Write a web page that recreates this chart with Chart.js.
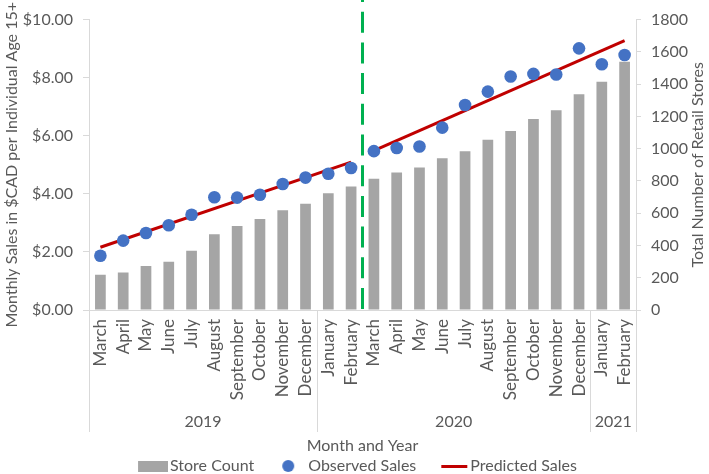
<!DOCTYPE html>
<html>
<head>
<meta charset="utf-8">
<script src="https://cdn.jsdelivr.net/npm/chart.js@4.4.1/dist/chart.umd.min.js"></script>
<style>
  html, body { margin: 0; padding: 0; background: #fff; }
  #wrap { width: 709px; height: 474px; }
</style>
</head>
<body>
<div id="wrap"><canvas id="myChart" width="709" height="474"></canvas></div>
<script>
// months, Mar 2019 - Feb 2021
var months = ["March", "April", "May", "June", "July", "August", "September", "October", "November", "December",
              "January", "February", "March", "April", "May", "June", "July", "August", "September", "October", "November", "December",
              "January", "February"];
var years = ["2019", "2020", "2021"];
var yearMonthCount = [10, 12, 2];

var storeCount = [218, 232, 273, 299, 368, 469, 521, 564, 618, 659, 723, 766,
                  814, 853, 883, 941, 984, 1055, 1109, 1184, 1238, 1337, 1414, 1539];
var observedSales = [1.87, 2.39, 2.65, 2.92, 3.28, 3.88, 3.87, 3.97, 4.34, 4.56, 4.69, 4.89,
                     5.47, 5.58, 5.63, 6.28, 7.06, 7.52, 8.04, 8.13, 8.11, 9.01, 8.46, 8.78];
// trend lines: first and last month index, value at each end
var trendIndex = [[0, 11], [12, 23]];
var trendValues = [[2.16, 5.09], [5.49, 9.28]];
var breakAfter = 11; // dashed line between Feb 2020 and Mar 2020

var textColor = '#595959';
var axisColor = '#D9D9D9';
var fontFamily = 'Lato, "Open Sans", sans-serif';

function trendData(k) {
  var d = [];
  for (var i = 0; i < months.length; i++) d.push(null);
  d[trendIndex[k][0]] = trendValues[k][0];
  d[trendIndex[k][1]] = trendValues[k][1];
  return d;
}

// legend icons
function icon(kind) {
  var c = document.createElement('canvas');
  c.width = 42; c.height = 14;
  var g = c.getContext('2d');
  if (kind == 'bar') {
    g.fillStyle = '#A5A5A5';
    g.fillRect(12, 2, 30, 11);
  } else if (kind == 'dot') {
    g.fillStyle = '#4472C4';
    g.beginPath(); g.arc(24, 7, 6, 0, Math.PI * 2); g.fill();
  } else {
    g.fillStyle = '#C00000';
    g.fillRect(15, 6, 26, 3);
  }
  return c;
}
var legendIcons = [icon('bar'), icon('dot'), icon('line'), icon('line')];

var extras = {
  id: 'extras',
  beforeInit: function(chart) {
    var fit = chart.legend.fit;
    chart.legend.fit = function() {
      fit.bind(chart.legend)();
      this.height -= 10;
    };
  },
  afterDatasetsDraw: function(chart) {
    var ctx = chart.ctx, x = chart.scales.x, area = chart.chartArea;
    var px = (x.getPixelForValue(breakAfter) + x.getPixelForValue(breakAfter + 1)) / 2;
    ctx.save();
    ctx.strokeStyle = '#00B050';
    ctx.lineWidth = 3;
    ctx.setLineDash([21, 9.7]);
    ctx.lineDashOffset = 19;
    ctx.beginPath();
    ctx.moveTo(px, 0);
    ctx.lineTo(px, area.bottom);
    ctx.stroke();
    ctx.restore();
  },
  afterDraw: function(chart) {
    var ctx = chart.ctx, x = chart.scales.x, area = chart.chartArea;
    var half = (x.getPixelForValue(1) - x.getPixelForValue(0)) / 2;
    ctx.save();
    ctx.strokeStyle = axisColor;
    ctx.lineWidth = 1;
    ctx.fillStyle = textColor;
    ctx.font = '16px ' + fontFamily;
    ctx.textAlign = 'center';
    ctx.textBaseline = 'middle';
    var start = 0;
    var edges = [x.getPixelForValue(0) - half];
    for (var i = 0; i < years.length; i++) {
      var end = start + yearMonthCount[i] - 1;
      var l = x.getPixelForValue(start) - half, r = x.getPixelForValue(end) + half;
      edges.push(r);
      ctx.fillText(years[i], (l + r) / 2, 422);
      start = end + 1;
    }
    ctx.beginPath();
    edges.forEach(function(e) {
      var ex = Math.round(e) + 0.5;
      ctx.moveTo(ex, area.bottom);
      ctx.lineTo(ex, 432);
    });
    ctx.stroke();
    // right axis title, reading upward
    ctx.translate(698, (area.top + area.bottom) / 2);
    ctx.rotate(-Math.PI / 2);
    ctx.fillText('Total Number of Retail Stores', 0, 0);
    ctx.restore();
  }
};

var ctx = document.getElementById('myChart');
var chart = new Chart(ctx, {
  type: 'bar',
  data: {
    labels: months,
    datasets: [
      {
        label: 'Store Count',
        data: storeCount,
        yAxisID: 'y1',
        backgroundColor: '#A5A5A5',
        barPercentage: 0.47,
        categoryPercentage: 1,
        order: 3
      },
      {
        type: 'line',
        label: 'Observed Sales',
        data: observedSales,
        yAxisID: 'y',
        showLine: false,
        pointRadius: 6.3,
        pointBorderWidth: 0,
        pointBackgroundColor: '#4472C4',
        backgroundColor: '#4472C4',
        order: 1
      },
      {
        type: 'line',
        label: 'Predicted Sales',
        data: trendData(0),
        yAxisID: 'y',
        borderColor: '#C00000',
        borderWidth: 3,
        pointRadius: 0,
        spanGaps: true,
        order: 2
      },
      {
        type: 'line',
        label: 'Predicted Sales 2',
        data: trendData(1),
        yAxisID: 'y',
        borderColor: '#C00000',
        borderWidth: 3,
        pointRadius: 0,
        spanGaps: true,
        order: 2
      }
    ]
  },
  options: {
    responsive: false,
    animation: false,
    layout: { padding: { top: 13, left: 0, right: 0, bottom: 0 } },
    plugins: {
      tooltip: { enabled: false },
      legend: {
        position: 'bottom',
        labels: {
          font: { family: fontFamily, size: 16 },
          color: textColor,
          usePointStyle: true,
          pointStyleWidth: 30,
          padding: 16,
          generateLabels: function(chart) {
            var items = Chart.defaults.plugins.legend.labels.generateLabels(chart);
            items.forEach(function(it) { it.pointStyle = legendIcons[it.datasetIndex]; });
            return items;
          },
          filter: function(item) { return item.datasetIndex != 3; },
          sort: function(a, b) { return a.datasetIndex - b.datasetIndex; }
        }
      }
    },
    scales: {
      x: {
        grid: { display: false, drawTicks: false },
        border: { color: axisColor },
        ticks: {
          autoSkip: false, minRotation: 90, maxRotation: 90, padding: 9,
          color: textColor, font: { family: fontFamily, size: 17 }
        },
        title: {
          display: true, text: 'Month and Year', color: textColor,
          font: { family: fontFamily, size: 16 }, padding: { top: 0, bottom: -13 }
        },
        afterFit: function(s) { s.height = 132; }
      },
      y: {
        position: 'left',
        min: 0, max: 10,
        grid: { drawOnChartArea: false, color: axisColor, tickLength: 6 },
        border: { color: axisColor },
        ticks: {
          stepSize: 2, padding: 10, color: textColor,
          font: { family: fontFamily, size: 16 },
          callback: function(v) { return '$' + v.toFixed(2); }
        },
        title: {
          display: true, text: 'Monthly Sales in $CAD per Individual Age 15+', color: textColor,
          font: { family: fontFamily, size: 16 }, padding: { top: 2.4, bottom: 0 }
        },
        afterFit: function(s) { s.width = 89; }
      },
      y1: {
        position: 'right',
        min: 0, max: 1800,
        grid: { drawOnChartArea: false, color: axisColor, tickLength: 5 },
        border: { color: axisColor },
        ticks: {
          stepSize: 200, padding: 10, color: textColor,
          font: { family: fontFamily, size: 16 },
          callback: function(v) { return String(v); }
        },
        afterFit: function(s) { s.width = 73; }
      }
    }
  },
  plugins: [extras]
});
</script>
</body>
</html>
